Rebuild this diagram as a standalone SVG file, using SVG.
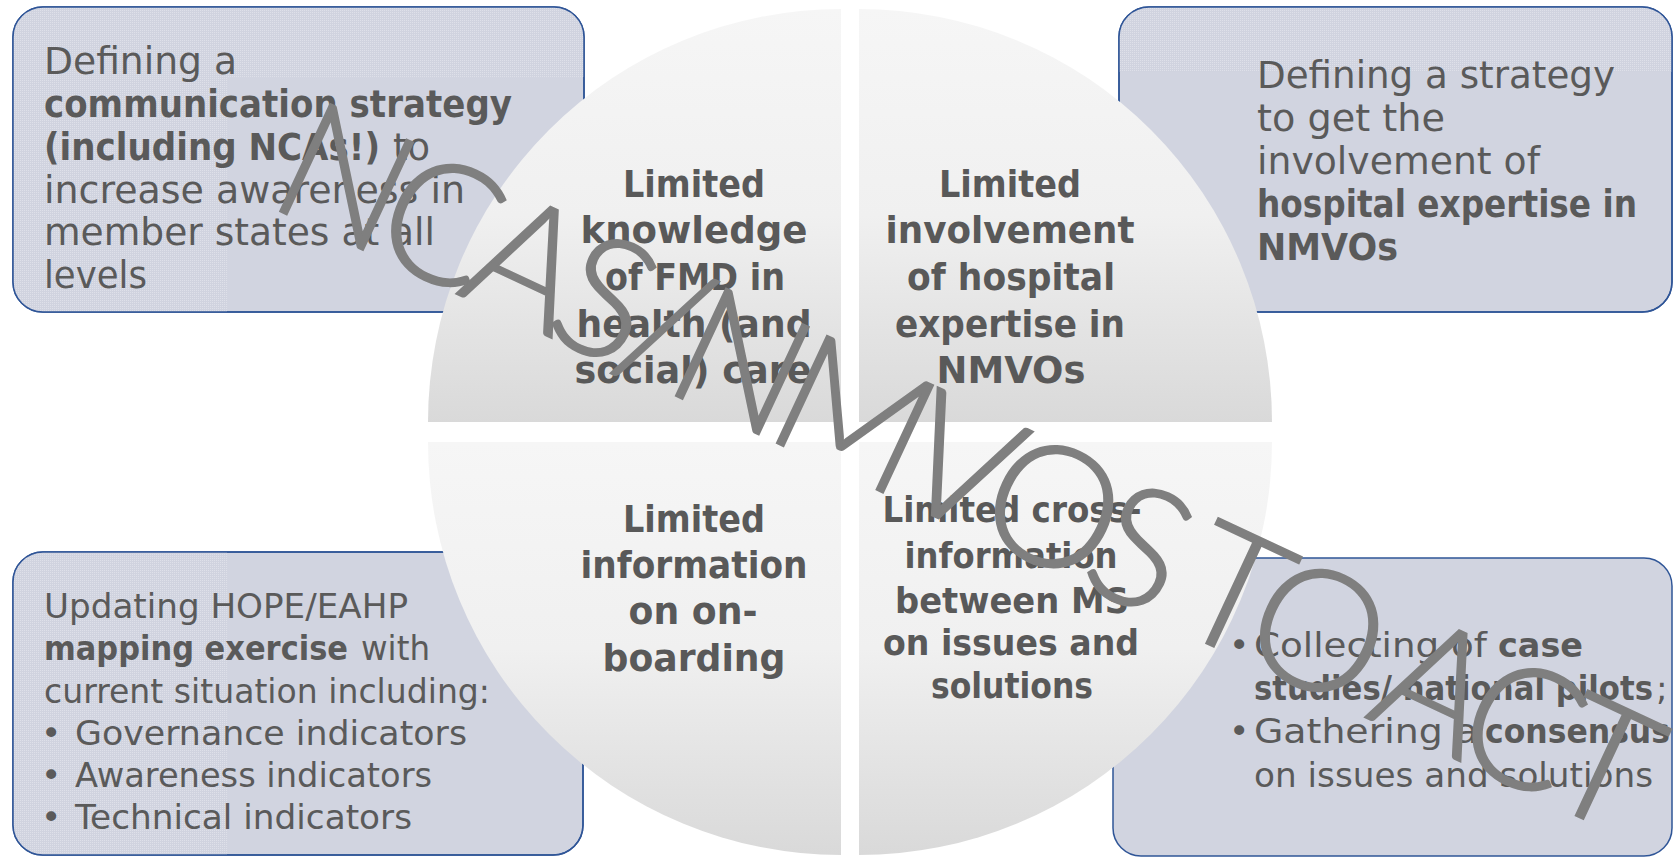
<svg xmlns="http://www.w3.org/2000/svg" width="1674" height="857" viewBox="0 0 1674 857">
<defs>
<style>
.box{fill:#d1d4e0;stroke:#2f5597;stroke-width:1.5}
.tex{fill:url(#dots)}
.t{font-family:'DejaVu Sans','Liberation Sans',sans-serif;fill:#5a5a5a}
.b{font-weight:bold}
.q{font-family:'DejaVu Sans','Liberation Sans',sans-serif;font-weight:bold;fill:#595959;font-size:38px;text-anchor:middle}
.quad{fill:url(#qg)}
.wm{font-family:Lato,'Open Sans','DejaVu Sans',sans-serif;font-weight:300;font-size:168px;fill:#7f7f7f;stroke:#7f7f7f;stroke-width:1.6}
</style>
<pattern id="dots" width="2" height="2" patternUnits="userSpaceOnUse">
<rect width="2" height="2" fill="#d0d3df"/>
<rect width="1" height="1" fill="#dee0e9"/>
</pattern>
<linearGradient id="qg" x1="0" y1="0" x2="0" y2="1">
<stop offset="0" stop-color="#f6f6f6"/>
<stop offset="0.5" stop-color="#f0f0f0"/>
<stop offset="1" stop-color="#d9d9d9"/>
</linearGradient>
<clipPath id="c-tl"><rect x="13" y="7" width="571" height="305" rx="30"/></clipPath>
<clipPath id="c-tr"><rect x="1119" y="7" width="553" height="305" rx="30"/></clipPath>
<clipPath id="c-bl"><rect x="13" y="552" width="570" height="303" rx="30"/></clipPath>
</defs>
<rect width="1674" height="857" fill="#ffffff"/>

<g id="box-tl">
<rect class="box" x="13" y="7" width="571" height="305" rx="30"/>
<g clip-path="url(#c-tl)"><rect class="tex" x="13" y="7" width="571" height="70"/><rect class="tex" x="13" y="77" width="214" height="235"/></g>
<rect x="13" y="7" width="571" height="305" rx="30" fill="none" stroke="#2f5597" stroke-width="1.5"/>
<g class="t" font-size="37">
<text x="44" y="74" textLength="193" lengthAdjust="spacingAndGlyphs">Defining a</text>
<text class="b" x="44" y="117" textLength="468" lengthAdjust="spacingAndGlyphs">communication strategy</text>
<text class="b" x="44" y="160" textLength="336" lengthAdjust="spacingAndGlyphs">(including NCAs!)</text>
<text x="393" y="160" textLength="37" lengthAdjust="spacingAndGlyphs">to</text>
<text x="44" y="203" textLength="421" lengthAdjust="spacingAndGlyphs">increase awareness in</text>
<text x="44" y="245" textLength="391" lengthAdjust="spacingAndGlyphs">member states at all</text>
<text x="44" y="288" textLength="103" lengthAdjust="spacingAndGlyphs">levels</text>
</g>
</g>

<g id="box-tr">
<rect class="box" x="1119" y="7" width="553" height="305" rx="30"/>
<g clip-path="url(#c-tr)"><rect class="tex" x="1119" y="7" width="553" height="65"/></g>
<rect x="1119" y="7" width="553" height="305" rx="30" fill="none" stroke="#2f5597" stroke-width="1.5"/>
<g class="t" font-size="36.5">
<text x="1257" y="88" textLength="358" lengthAdjust="spacingAndGlyphs">Defining a strategy</text>
<text x="1257" y="131" textLength="188" lengthAdjust="spacingAndGlyphs">to get the</text>
<text x="1257" y="174" textLength="283" lengthAdjust="spacingAndGlyphs">involvement of</text>
<text class="b" x="1257" y="217" textLength="380" lengthAdjust="spacingAndGlyphs">hospital expertise in</text>
<text class="b" x="1257" y="260" textLength="141" lengthAdjust="spacingAndGlyphs">NMVOs</text>
</g>
</g>

<g id="box-bl">
<rect class="box" x="13" y="552" width="570" height="303" rx="30"/>
<g clip-path="url(#c-bl)"><rect class="tex" x="13" y="552" width="214" height="303"/></g>
<rect x="13" y="552" width="570" height="303" rx="30" fill="none" stroke="#2f5597" stroke-width="1.5"/>
<g class="t" font-size="34.5">
<text x="44" y="618" textLength="364" lengthAdjust="spacingAndGlyphs">Updating HOPE/EAHP</text>
<text class="b" x="44" y="660" textLength="304" lengthAdjust="spacingAndGlyphs">mapping exercise</text>
<text x="361" y="660" textLength="69" lengthAdjust="spacingAndGlyphs">with</text>
<text x="44" y="703" textLength="446" lengthAdjust="spacingAndGlyphs">current situation including:</text>
<text x="41" y="745">•</text>
<text x="75" y="745" textLength="392" lengthAdjust="spacingAndGlyphs">Governance indicators</text>
<text x="41" y="787">•</text>
<text x="75" y="787" textLength="357" lengthAdjust="spacingAndGlyphs">Awareness indicators</text>
<text x="41" y="829">•</text>
<text x="75" y="829" textLength="337" lengthAdjust="spacingAndGlyphs">Technical indicators</text>
</g>
</g>

<g id="box-br">
<rect class="box" x="1113" y="558" width="559" height="298" rx="28"/>
<g class="t" font-size="34.5">
<text x="1229" y="657">•</text>
<text x="1254" y="657" textLength="233" lengthAdjust="spacingAndGlyphs">Collecting of</text>
<text class="b" x="1498" y="657" textLength="85" lengthAdjust="spacingAndGlyphs">case</text>
<text class="b" x="1254" y="700" textLength="399" lengthAdjust="spacingAndGlyphs">studies/ national pilots</text>
<text x="1656" y="700">;</text>
<text x="1229" y="743">•</text>
<text x="1254" y="743" textLength="224" lengthAdjust="spacingAndGlyphs">Gathering a</text>
<text class="b" x="1485" y="743" textLength="185" lengthAdjust="spacingAndGlyphs">consensus</text>
<text x="1254" y="787" textLength="399" lengthAdjust="spacingAndGlyphs">on issues and solutions</text>
</g>
</g>

<g id="quad-tl">
<path class="quad" d="M841,422 L428,422 A413,413 0 0 1 841,9 Z"/>
<g class="q">
<text x="694" y="197" textLength="142" lengthAdjust="spacingAndGlyphs">Limited</text>
<text x="694" y="243" textLength="227" lengthAdjust="spacingAndGlyphs">knowledge</text>
<text x="695" y="290" textLength="180" lengthAdjust="spacingAndGlyphs">of FMD in</text>
<text x="694" y="337" textLength="235" lengthAdjust="spacingAndGlyphs">health (and</text>
<text x="693" y="383" textLength="237" lengthAdjust="spacingAndGlyphs">social) care</text>
</g>
</g>

<g id="quad-tr">
<path class="quad" d="M859,422 L859,9 A413,413 0 0 1 1272,422 Z"/>
<g class="q">
<text x="1010" y="197" textLength="142" lengthAdjust="spacingAndGlyphs">Limited</text>
<text x="1010" y="243" textLength="249" lengthAdjust="spacingAndGlyphs">involvement</text>
<text x="1011" y="290" textLength="208" lengthAdjust="spacingAndGlyphs">of hospital</text>
<text x="1010" y="337" textLength="230" lengthAdjust="spacingAndGlyphs">expertise in</text>
<text x="1011" y="383" textLength="149" lengthAdjust="spacingAndGlyphs">NMVOs</text>
</g>
</g>

<g id="quad-bl">
<path class="quad" d="M841,442 L841,855 A413,413 0 0 1 428,442 Z"/>
<g class="q">
<text x="694" y="532" textLength="142" lengthAdjust="spacingAndGlyphs">Limited</text>
<text x="694" y="578" textLength="227" lengthAdjust="spacingAndGlyphs">information</text>
<text x="693" y="624" textLength="129" lengthAdjust="spacingAndGlyphs">on on-</text>
<text x="694" y="671" textLength="183" lengthAdjust="spacingAndGlyphs">boarding</text>
</g>
</g>

<g id="quad-br">
<path class="quad" d="M859,442 L1272,442 A413,413 0 0 1 859,855 Z"/>
<g class="q" style="font-size:35px">
<text x="1012" y="522" textLength="259" lengthAdjust="spacingAndGlyphs">Limited cross-</text>
<text x="1011" y="568" textLength="213" lengthAdjust="spacingAndGlyphs">information</text>
<text x="1012" y="613" textLength="234" lengthAdjust="spacingAndGlyphs">between MS</text>
<text x="1011" y="655" textLength="256" lengthAdjust="spacingAndGlyphs">on issues and</text>
<text x="1012" y="698" textLength="162" lengthAdjust="spacingAndGlyphs">solutions</text>
</g>
</g>

<g id="connectors"/>

<g id="watermark">
<text class="wm" x="264" y="204" transform="rotate(25 264 204)" textLength="1500" lengthAdjust="spacing">NCAS/NMVOS TO ACT</text>
</g>
</svg>
